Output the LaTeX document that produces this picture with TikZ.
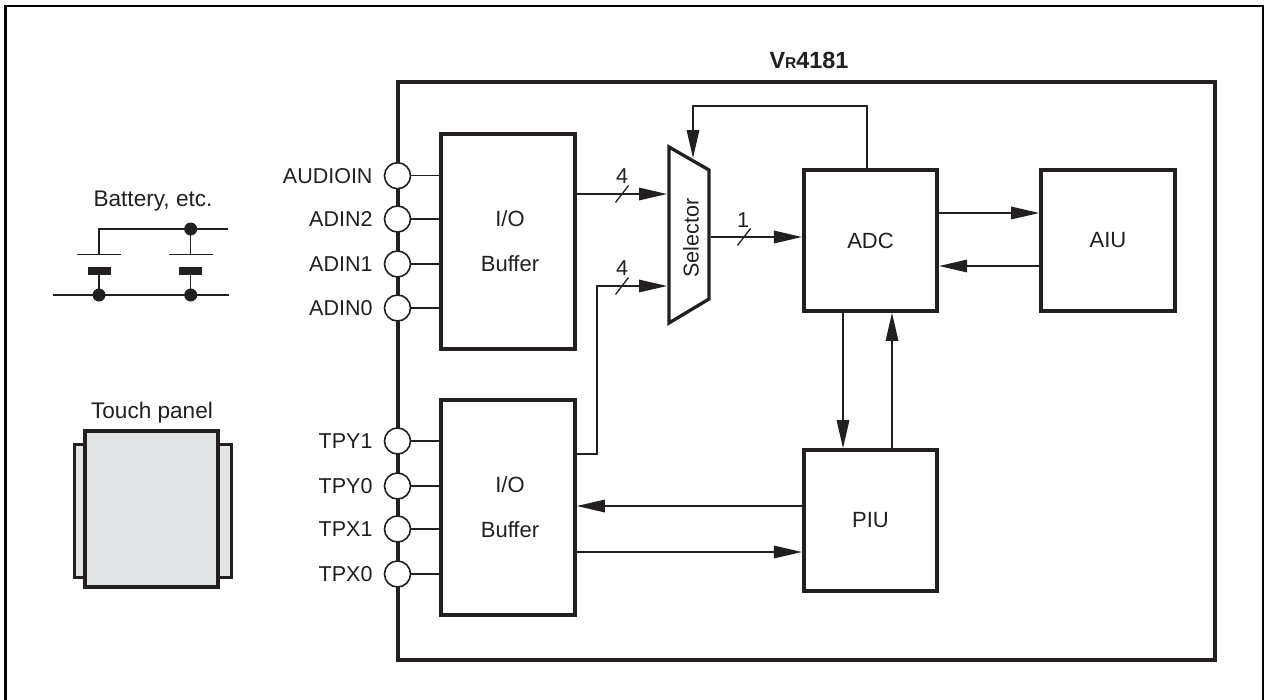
\documentclass[tikz,border=0pt]{standalone}
\usepackage{fontspec}
\setmainfont{Liberation Sans}
\usetikzlibrary{arrows.meta}
\definecolor{ink}{HTML}{231F20}
\definecolor{panel}{HTML}{E3E4E6}
\tikzset{
  x=1pt,y=-1pt,
  every node/.style={text=ink,font=\fontsize{21.5}{25}\selectfont,inner sep=0pt},
  blockbox/.style={draw=ink,line width=3.6pt,fill=white,align=center,font=\fontsize{22}{25}\selectfont},
  heavy/.style={draw=ink,line width=3.6pt,line join=miter},
  conn/.style={draw=ink,line width=1.5pt},
  arr/.style={conn,-{Triangle[length=28pt,width=12.5pt]}},
  pin/.style={circle,draw=ink,line width=1.6pt,fill=white,minimum size=26pt},
  dot/.style={circle,fill=ink,minimum size=13pt},
  plab/.style={anchor=east},
  tick/.style={draw=ink,line width=1.3pt},
  side/.style={font=\fontsize{22.6}{25}\selectfont},
}
\newcommand{\busmark}[1]{\draw[tick] ([shift={(-6.5pt,-8.5pt)}]#1) -- ([shift={(6.5pt,8.5pt)}]#1);}
\begin{document}
\begin{tikzpicture}
\useasboundingbox (0,0) rectangle (1265,699);
\fill[white] (0,0) rectangle (1265,699);
% outer frame (its lower edge lies beyond the page)
\draw[black,line width=2.4pt] (5.5,705) -- (5.5,6) -- (1263,6) -- (1263,705);
% chip
\node[blockbox,minimum width=817pt,minimum height=578pt] (chip) at (806.5,371) {};
\node (title) at (809,60) {\fontsize{23.4}{25}\selectfont\bfseries V\fontsize{15.6}{25}\selectfont R\fontsize{23.4}{25}\selectfont 4181};
% blocks
\node[blockbox,minimum width=134pt,minimum height=215pt] (io1) at (508,241.5) {\hspace*{4pt}I/O\\[20pt]\hspace*{4pt}Buffer};
\node[blockbox,minimum width=134pt,minimum height=215pt] (io2) at (508,507.5) {\hspace*{4pt}I/O\\[20pt]\hspace*{4pt}Buffer};
\node[blockbox,minimum width=133.5pt,minimum height=141pt] (adc) at (870.5,240.5) {ADC};
\node[blockbox,minimum width=134pt,minimum height=141pt] (aiu) at (1108,240.5) {AIU};
\node[blockbox,minimum width=133.5pt,minimum height=141pt] (piu) at (870.5,520.5) {PIU};
% selector
\coordinate (s1) at (669,147);
\coordinate (s2) at (709,170);
\coordinate (s3) at (709,299);
\coordinate (s4) at (669,323);
\draw[heavy,line width=3.3pt] (s1) -- (s2) -- (s3) -- (s4) -- cycle;
\node[rotate=90] (sel) at (691,238) {Selector};
\coordinate (inA) at (667,194);
\coordinate (inB) at (667,286);
\coordinate (out) at (711,237);
\coordinate (fb) at (693,158);
\coordinate (fbA) at (867,106);
\coordinate (fbB) at (693,106);
\coordinate (elbowA) at (597,454);
\coordinate (elbowB) at (597,286);
\coordinate (y213) at (0,213);
\coordinate (y266) at (0,266);
\coordinate (y506) at (0,506);
\coordinate (y552) at (0,552);
\coordinate (x843) at (843,0);
\coordinate (x892) at (892,0);
% pins
\foreach \n/\t/\y/\b in {pa/AUDIOIN/175.7/io1, pb/ADIN2/219/io1, pc/ADIN1/264/io1, pd/ADIN0/308/io1,
                         pe/TPY1/441/io2, pf/TPY0/486/io2, pg/TPX1/529/io2, ph/TPX0/574/io2}{
  \node[pin] (\n) at (397.5,\y) {};
  \draw[conn] (\n.east) -- (\b.west |- \n.east);
  \node[plab] (\n l) at ([xshift=-11pt]\n.west) {\t};
}
% connectors
\draw[arr] (io1.east |- inA) -- (inA);
\draw[arr] (io2.east |- elbowA) -- (elbowA) -- (elbowB) -- (inB);
\draw[arr] (out) -- (adc.west |- out);
\draw[arr] (adc.north -| fbA) -- (fbA) -- (fbB) -- (fb);
\draw[arr] (adc.east |- y213) -- (aiu.west |- y213);
\draw[arr] (aiu.west |- y266) -- (adc.east |- y266);
\draw[arr] (adc.south -| x843) -- (piu.north -| x843);
\draw[arr] (piu.north -| x892) -- (adc.south -| x892);
\draw[arr] (piu.west |- y506) -- (io2.east |- y506);
\draw[arr] (io2.east |- y552) -- (piu.west |- y552);
% bus marks
\coordinate (t1) at (622,194);
\coordinate (t2) at (622,286);
\coordinate (t3) at (744,237);
\busmark{t1}\busmark{t2}\busmark{t3}
\node (n1) at (622,176) {4};
\node (n2) at (622,268) {4};
\node (n3) at (743,220) {1};
% battery
\node[side] (bat) at (153,201) {Battery, etc.};
\coordinate (bL) at (99,295);
\coordinate (bR) at (190.7,295);
\coordinate (tL) at (99,229);
\coordinate (tR) at (190.7,229);
\coordinate (pL) at (99,254.3);
\coordinate (pR) at (190.7,254.3);
\coordinate (qL) at (99,271);
\coordinate (qR) at (190.7,271);
\draw[conn] (228,229) -- (tL) -- (pL);
\draw[conn] (tR) -- (pR);
\draw[conn] (53,295) -- (229,295);
\draw[conn] (qL) -- (bL);
\draw[conn] (qR) -- (bR);
\draw[conn] ([xshift=-22pt]pL) -- ([xshift=22pt]pL);
\draw[conn] ([xshift=-22pt]pR) -- ([xshift=22pt]pR);
\fill[ink] (88,267) rectangle (110.5,275);
\fill[ink] (179,267) rectangle (201.5,275);
\node[dot] (d1) at (tR) {};
\node[dot] (d2) at (bL) {};
\node[dot] (d3) at (bR) {};
% touch panel
\node[side] (tp) at (152,413) {Touch panel};
\draw[draw=ink,fill=panel,line width=3pt] (74,444) rectangle (231,577);
\draw[draw=ink,fill=panel,line width=4pt] (85.3,431) rectangle (218,587);
\end{tikzpicture}
\end{document}
